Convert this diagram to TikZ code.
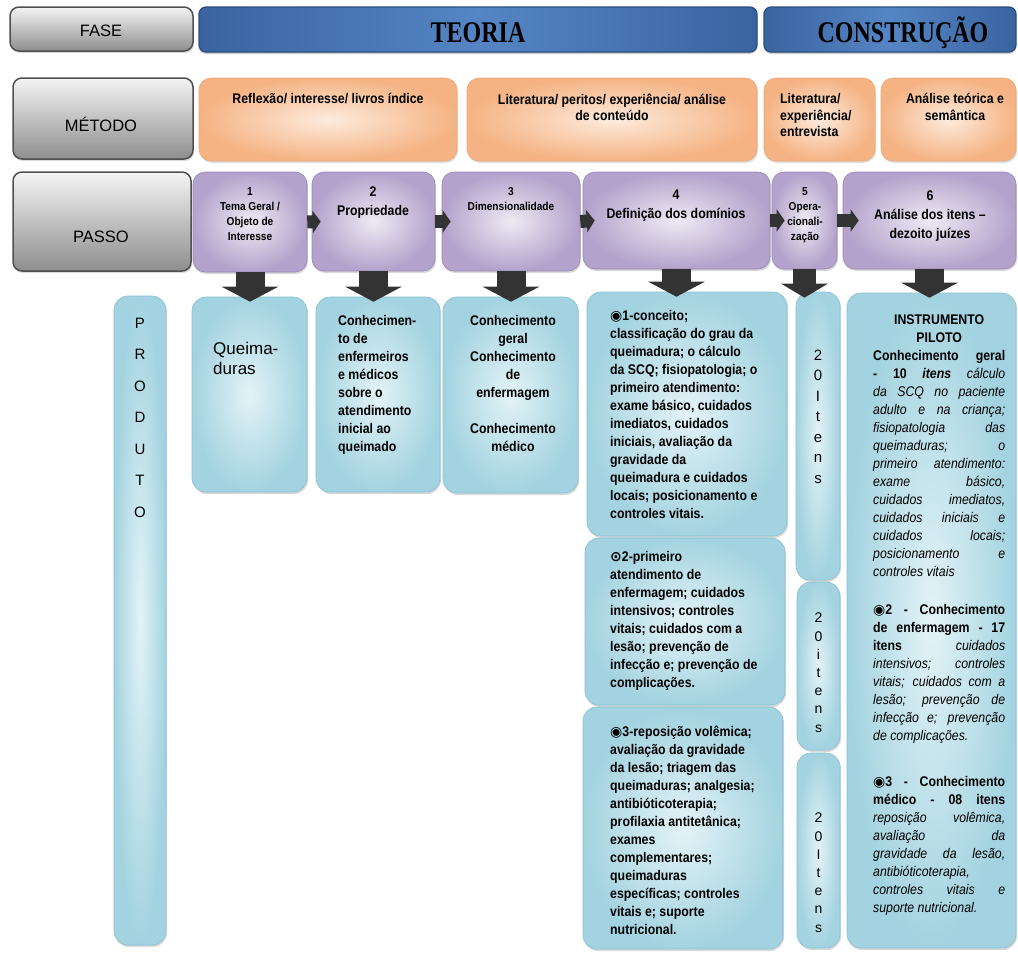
\documentclass[tikz,border=0pt]{standalone}
\usepackage{fontspec}
\setmainfont{Liberation Sans}
\newfontfamily\serifhead[FakeStretch=0.8]{Liberation Serif}
\newfontfamily\narrowsans[FakeStretch=0.88]{Liberation Sans}
\newfontfamily\symbolfont{DejaVu Sans}
\usepackage{tikz}
\usetikzlibrary{calc,fit,shadows,arrows.meta}
\definecolor{greytop}{HTML}{F4F4F4}
\definecolor{greybottom}{HTML}{8E8E8E}
\definecolor{greyline}{HTML}{505050}
\definecolor{phaseedge}{HTML}{3A64A0}
\definecolor{phasemid}{HTML}{5585C4}
\definecolor{phaseline}{HTML}{2A4D80}
\definecolor{orangelight}{HTML}{FDEBDD}
\definecolor{orangedark}{HTML}{F5B383}
\definecolor{orangeline}{HTML}{EDA877}
\definecolor{purplelight}{HTML}{EEEAF4}
\definecolor{purpledark}{HTML}{B3A2CB}
\definecolor{purpleline}{HTML}{9A88B6}
\definecolor{bluelight}{HTML}{E3F3F7}
\definecolor{bluedark}{HTML}{A3D3E0}
\definecolor{blueline}{HTML}{86C0D0}
\colorlet{arrowgrey}{black!80}
\newcommand{\bullseye}{{\symbolfont\fontsize{14}{18}\selectfont ◉}}
\newcommand{\dotcirc}{{\symbolfont\fontsize{14}{18}\selectfont ⊙}}
\newcommand{\jline}[1]{\makebox[132pt][s]{#1}\\}
\tikzstyle{headbox} =[
    draw=greyline,
    line width=1.5pt,
    rounded corners=9pt,
    top color=greytop,
    bottom color=greybottom,
    inner sep=0pt,
    drop shadow={opacity=0.3,shadow xshift=1pt,shadow yshift=-2pt}
    ]
\tikzstyle{phasebox} =[
    draw=phaseline,
    line width=1.2pt,
    rounded corners=7pt,
    left color=phaseedge,
    right color=phaseedge,
    middle color=phasemid,
    inner sep=0pt,
    drop shadow={opacity=0.4,shadow xshift=0pt,shadow yshift=-2pt}
    ]
\tikzstyle{methodbox} =[
    draw=orangeline,
    line width=0.6pt,
    rounded corners=12pt,
    inner color=orangelight,
    outer color=orangedark,
    inner sep=0pt,
    drop shadow={opacity=0.25,shadow xshift=1pt,shadow yshift=-2pt}
    ]
\tikzstyle{stepbox} =[
    draw=purpleline,
    line width=0.6pt,
    rounded corners=12pt,
    inner color=purplelight,
    outer color=purpledark,
    inner sep=0pt,
    drop shadow={opacity=0.3,shadow xshift=1pt,shadow yshift=-2pt}
    ]
\tikzstyle{prodbox} =[
    draw=blueline,
    line width=0.6pt,
    rounded corners=14pt,
    inner color=bluelight,
    outer color=bluedark,
    inner sep=0pt,
    drop shadow={opacity=0.3,shadow xshift=1pt,shadow yshift=-2pt}
    ]
\tikzstyle{headlabel} =[font=\fontsize{16.5}{18}\selectfont, inner sep=0pt, anchor=base]
\tikzstyle{phaselabel} =[font=\serifhead\bfseries\fontsize{30}{30}\selectfont, inner sep=0pt, anchor=base]
\tikzstyle{bodytext} =[font=\narrowsans\bfseries\fontsize{14}{18}\selectfont, inner sep=0pt]
\tikzstyle{methodtext} =[font=\narrowsans\bfseries\fontsize{14}{16.5}\selectfont, inner sep=0pt]
\tikzstyle{bigstep} =[font=\narrowsans\bfseries\fontsize{14}{19}\selectfont, inner sep=0pt, align=center, anchor=north]
\tikzstyle{smallstep} =[font=\narrowsans\bfseries\fontsize{11.5}{15}\selectfont, inner sep=0pt, align=center, anchor=north]
\tikzstyle{lettercol} =[font=\fontsize{15}{20.5}\selectfont, inner sep=0pt, align=center, anchor=north]
\tikzstyle{downarrow} =[arrowgrey, line width=29pt, -{Triangle[width=56pt,length=15pt]}]
\tikzstyle{rightarrow} =[arrowgrey, line width=13pt, -{Triangle[width=22pt,length=8pt]}]

\begin{document}
\begin{tikzpicture}[x=1pt,y=-1pt]
\useasboundingbox (0,0) rectangle (1018,953);

\node[headbox, fit={(10,7) (193,51)}] (fase) {};
\node[headlabel] (faselbl) at (101,36) {FASE};
\node[phasebox, fit={(199,7) (757,52)}] (teoria) {};
\node[phaselabel] (teorialbl) at (478,42) {TEORIA};
\node[phasebox, fit={(764,7) (1016,52)}] (constr) {};
\node[phaselabel] (constrlbl) at (903,42) {CONSTRUÇÃO};

\node[headbox, fit={(13,78) (193,159)}] (metodo) {};
\node[headlabel] (metodolbl) at (101,131) {MÉTODO};
\node[methodbox, fit={(199,78) (457,161)}] (m1) {};
\node[methodtext, anchor=north] (m1lbl) at (328,93.5) {Reflexão/ interesse/ livros índice};
\node[methodbox, fit={(467,78) (757,161)}] (m2) {};
\node[methodtext, anchor=north, align=center] (m2lbl) at (612,93.5) {Literatura/ peritos/ experiência/ análise\\de conteúdo};
\node[methodbox, fit={(764,78) (875,161)}] (m3) {};
\node[methodtext, anchor=north west, align=left] (m3lbl) at (780,93.5) {Literatura/\\experiência/\\entrevista};
\node[methodbox, fit={(881,78) (1016,161)}] (m4) {};
\node[methodtext, anchor=north, align=center] (m4lbl) at (955,93.5) {Análise teórica e\\semântica};

\node[headbox, fit={(13,172) (191,271)}] (passo) {};
\node[headlabel] (passolbl) at (101,242) {PASSO};
\node[stepbox, fit={(193,172) (307,272)}] (p1) {};
\node[smallstep] (p1lbl) at (250,187) {1\\Tema Geral /\\Objeto de\\Interesse};
\node[stepbox, fit={(312,172) (435,271)}] (p2) {};
\node[bigstep] (p2lbl) at (373,187) {2\\Propriedade};
\node[stepbox, fit={(442,172) (580,271)}] (p3) {};
\node[smallstep] (p3lbl) at (511,187) {3\\Dimensionalidade};
\node[stepbox, fit={(583,172) (770,269)}] (p4) {};
\node[bigstep] (p4lbl) at (676,190) {4\\Definição dos domínios};
\node[stepbox, fit={(772,172) (837,269)}] (p5) {};
\node[smallstep] (p5lbl) at (805,187) {5\\Opera-\\cionali-\\zação};
\node[stepbox, fit={(843,172) (1016,269)}] (p6) {};
\node[bigstep] (p6lbl) at (930,191) {6\\Análise dos itens –\\dezoito juízes};

\node[prodbox, fit={(114,296) (166,945)}] (produto) {};
\node[lettercol, font=\fontsize{15}{31.5}\selectfont] (produtolbl) at (140,317.5) {P\\R\\O\\D\\U\\T\\O};
\node[prodbox, fit={(192,297) (307,492)}] (q) {};
\node[font=\fontsize{17}{20}\selectfont, inner sep=0pt, align=left, anchor=north west] (qlbl) at (213,342) {Queima-\\duras};
\node[prodbox, fit={(316,297) (440,492)}] (k) {};
\node[bodytext, align=left, anchor=north west] (klbl) at (338,315.5) {Conhecimen-\\to de\\enfermeiros\\e médicos\\sobre o\\atendimento\\inicial ao\\queimado};
\node[prodbox, fit={(443,297) (578,493)}] (g) {};
\node[bodytext, align=center, anchor=north] (glbl) at (513,315.5) {Conhecimento\\geral\\Conhecimento\\de\\enfermagem\\[18pt]Conhecimento\\médico};

\node[prodbox, fit={(587,292) (787,536)}] (d1) {};
\node[bodytext, align=left, anchor=north west] (d1lbl) at (610,310.5) {\bullseye1-conceito;\\classificação do grau da\\queimadura; o cálculo\\da SCQ; fisiopatologia; o\\primeiro atendimento:\\exame básico, cuidados\\imediatos, cuidados\\iniciais, avaliação da\\gravidade da\\queimadura e cuidados\\locais; posicionamento e\\controles vitais.};
\node[prodbox, fit={(585,538) (785,705)}] (d2) {};
\node[bodytext, align=left, anchor=north west] (d2lbl) at (610,551.5) {\dotcirc2-primeiro\\atendimento de\\enfermagem; cuidados\\intensivos; controles\\vitais; cuidados com a\\lesão; prevenção de\\infecção e; prevenção de\\complicações.};
\node[prodbox, fit={(583,707) (783,949)}] (d3) {};
\node[bodytext, align=left, anchor=north west] (d3lbl) at (610,725.5) {\bullseye3-reposição volêmica;\\avaliação da gravidade\\da lesão; triagem das\\queimaduras; analgesia;\\antibióticoterapia;\\profilaxia antitetânica;\\exames\\complementares;\\queimaduras\\específicas; controles\\vitais e; suporte\\nutricional.};

\node[prodbox, fit={(796,292) (840,580)}] (i1) {};
\node[lettercol] (i1lbl) at (818,349.5) {2\\0\\I\\t\\e\\n\\s};
\node[prodbox, fit={(797,582) (840,750)}] (i2) {};
\node[lettercol, font=\fontsize{14}{18.2}\selectfont] (i2lbl) at (818.5,613) {2\\0\\i\\t\\e\\n\\s};
\node[prodbox, fit={(797,753) (840,948)}] (i3) {};
\node[lettercol, font=\fontsize{14}{18.2}\selectfont] (i3lbl) at (818.5,813) {2\\0\\I\\t\\e\\n\\s};

\node[prodbox, fit={(847,293) (1016,948)}] (inst) {};
\node[inner sep=0pt, anchor=north west] (instlbl) at (873,315) {%
    \begin{minipage}{132pt}\narrowsans\fontsize{14}{18}\selectfont
{\centering\bfseries INSTRUMENTO\\PILOTO\par}
\jline{\textbf{Conhecimento geral}}
\jline{\textbf{- 10 \textit{itens}} \textit{cálculo}}
\jline{\textit{da SCQ no paciente}}
\jline{\textit{adulto e na criança;}}
\jline{\textit{fisiopatologia das}}
\jline{\textit{queimaduras; o}}
\jline{\textit{primeiro atendimento:}}
\jline{\textit{exame básico,}}
\jline{\textit{cuidados imediatos,}}
\jline{\textit{cuidados iniciais e}}
\jline{\textit{cuidados locais;}}
\jline{\textit{posicionamento e}}
\textit{controles vitais}\par
\vspace{20pt}
\jline{\bullseye\textbf{2 - Conhecimento}}
\jline{\textbf{de enfermagem - 17}}
\jline{\textbf{itens} \textit{cuidados}}
\jline{\textit{intensivos; controles}}
\jline{\textit{vitais; cuidados com a}}
\jline{\textit{lesão; prevenção de}}
\jline{\textit{infecção e; prevenção}}
\textit{de complicações.}\par
\vspace{28pt}
\jline{\bullseye\textbf{3 - Conhecimento}}
\jline{\textbf{médico - 08 itens}}
\jline{\textit{reposição volêmica,}}
\jline{\textit{avaliação da}}
\jline{\textit{gravidade da lesão,}}
\textit{antibióticoterapia,}\\
\jline{\textit{controles vitais e}}
\textit{suporte nutricional.}
    \end{minipage}
};

\draw[rightarrow] (p1.east) -- ([xshift=9pt]p2.west);
\draw[rightarrow] (p2.east) -- ([xshift=9pt]p3.west);
\draw[rightarrow] (p3.east) -- ([xshift=12pt]p4.west);
\draw[rightarrow] (p4.east) -- ([xshift=13pt]p5.west);
\draw[rightarrow] (p5.east) -- ([xshift=16pt]p6.west);

\draw[downarrow] (p1.south) -- ($(p1.south |- q.north)+(0,5)$);
\draw[downarrow] (p2.south) -- ($(p2.south |- k.north)+(0,5)$);
\draw[downarrow] (p3.south) -- ($(p3.south |- g.north)+(0,5)$);
\draw[downarrow] (p4.south) -- ($(p4.south |- d1.north)+(0,5)$);
\draw[downarrow, line width=23pt, -{Triangle[width=46pt,length=14pt]}] (p5.south) -- ($(p5.south |- i1.north)+(0,6)$);
\draw[downarrow] (p6.south) -- ($(p6.south |- inst.north)+(0,5)$);
\end{tikzpicture}
\end{document}
